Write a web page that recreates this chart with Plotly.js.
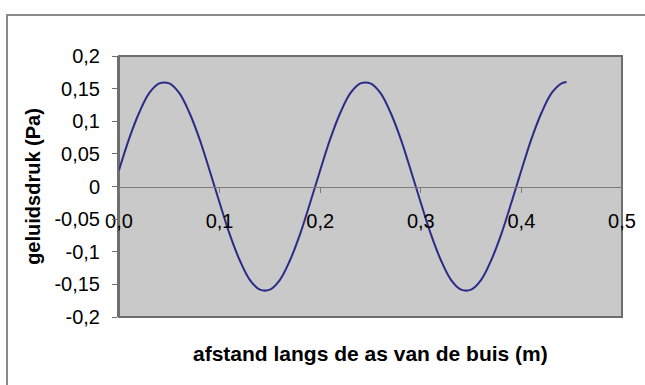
<!DOCTYPE html>
<html>
<head>
<meta charset="utf-8">
<script src="https://cdn.plot.ly/plotly-3.0.1.min.js"></script>
<style>
  html, body { margin: 0; padding: 0; background: #ffffff; }
  #chart { width: 645px; height: 385px; }
</style>
</head>
<body>
<div id="chart"></div>
<script>
// Sound pressure along the tube axis
const afstand = [
  0.00, 0.01, 0.02, 0.03, 0.04, 0.05, 0.06, 0.07, 0.08, 0.09,
  0.10, 0.11, 0.12, 0.13, 0.14, 0.15, 0.16, 0.17, 0.18, 0.19,
  0.20, 0.21, 0.22, 0.23, 0.24, 0.25, 0.26, 0.27, 0.28, 0.29,
  0.30, 0.31, 0.32, 0.33, 0.34, 0.35, 0.36, 0.37, 0.38, 0.39,
  0.40, 0.41, 0.42, 0.43, 0.44, 0.445
];
const druk = [
  0.025, 0.073, 0.113, 0.143, 0.158, 0.158, 0.143, 0.113, 0.073, 0.025,
  -0.025, -0.073, -0.113, -0.143, -0.158, -0.158, -0.143, -0.113, -0.073, -0.025,
  0.025, 0.073, 0.113, 0.143, 0.158, 0.158, 0.143, 0.113, 0.073, 0.025,
  -0.025, -0.073, -0.113, -0.143, -0.158, -0.158, -0.143, -0.113, -0.073, -0.025,
  0.025, 0.073, 0.113, 0.143, 0.158, 0.160
];

const xTickVals = [0, 0.1, 0.2, 0.3, 0.4, 0.5];
const xTickText = ['0,0', '0,1', '0,2', '0,3', '0,4', '0,5'];
const yTickVals = [0.2, 0.15, 0.1, 0.05, 0, -0.05, -0.1, -0.15, -0.2];
const yTickText = ['0,2', '0,15', '0,1', '0,05', '0', '-0,05', '-0,1', '-0,15', '-0,2'];

const W = 645, H = 385;
const M = { l: 119, r: 23, t: 56, b: 68 };
const pw = W - M.l - M.r, ph = H - M.t - M.b;
// pixel -> paper helpers for the outer chart frame
const px = v => (v - M.l) / pw;
const py = v => 1 - (v - M.t) / ph;

const font = 'Liberation Sans, Arial, sans-serif';

const trace = {
  x: afstand,
  y: druk,
  type: 'scatter',
  mode: 'lines',
  line: { color: '#2b2b88', width: 2, shape: 'spline', smoothing: 1 },
  hoverinfo: 'skip'
};

const layout = {
  width: W,
  height: H,
  margin: M,
  paper_bgcolor: '#ffffff',
  plot_bgcolor: '#c9c9c9',
  showlegend: false,
  font: { family: font, size: 14, color: '#000000' },
  xaxis: {
    range: [0, 0.5],
    tickvals: xTickVals,
    ticktext: xTickText,
    anchor: 'free',
    position: 0.5,
    showline: true,
    linecolor: '#7a7a7a',
    linewidth: 1,
    ticks: 'outside',
    ticklen: 5,
    tickcolor: '#7a7a7a',
    ticklabelstandoff: 11,
    showgrid: false,
    zeroline: false,
    tickfont: { family: font, size: 20, color: '#000000' },
    fixedrange: true
  },
  yaxis: {
    range: [-0.2, 0.2],
    tickvals: yTickVals,
    ticktext: yTickText,
    showline: true,
    linecolor: '#6e6e6e',
    linewidth: 2,
    ticks: 'outside',
    ticklen: 5,
    tickcolor: '#6e6e6e',
    ticklabelstandoff: 8,
    showgrid: false,
    zeroline: false,
    tickfont: { family: font, size: 20, color: '#000000' },
    title: {
      text: 'geluidsdruk (Pa)',
      font: { family: font, size: 20, color: '#000000', weight: 'bold' },
      standoff: 8
    },
    fixedrange: true
  },
  annotations: [
    {
      text: '<b>afstand langs de as van de buis (m)</b>',
      xref: 'paper', yref: 'paper',
      x: 0.5, y: py(353),
      xanchor: 'center', yanchor: 'middle',
      showarrow: false,
      font: { family: font, size: 21, color: '#000000' }
    }
  ],
  shapes: [
    // plot area frame, kept under the tick labels
    {
      type: 'rect', xref: 'paper', yref: 'paper', layer: 'below',
      x0: 0, x1: 1, y0: 0, y1: 1,
      line: { color: '#6e6e6e', width: 2 },
      fillcolor: 'rgba(0,0,0,0)'
    },
    // outer chart frame
    {
      type: 'rect', xref: 'paper', yref: 'paper', layer: 'below',
      x0: px(7), x1: px(660), y0: py(400), y1: py(15),
      line: { color: '#8a8a8a', width: 2 },
      fillcolor: 'rgba(0,0,0,0)'
    }
  ]
};

Plotly.newPlot('chart', [trace], layout, { displayModeBar: false, staticPlot: true });
</script>
</body>
</html>
